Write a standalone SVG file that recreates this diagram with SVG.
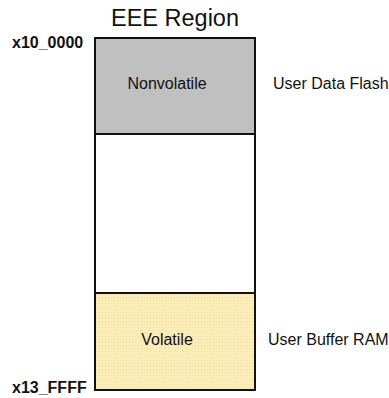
<svg xmlns="http://www.w3.org/2000/svg" width="389" height="398" viewBox="0 0 389 398">
<defs>
<pattern id="hatch" width="3" height="3" patternUnits="userSpaceOnUse">
<rect width="3" height="3" fill="#fdefbd"/>
<rect width="1" height="1" fill="#f3dc96"/>
<rect x="1.5" y="1.5" width="1" height="1" fill="#f6e2a4"/>
</pattern>
</defs>
<style>
text{font-family:"Liberation Sans",Arial,Helvetica,sans-serif;fill:#111}
.t{font-size:16px}
.a{font-size:16px;font-weight:bold}
.title{font-size:23.5px;text-anchor:middle}
.c{text-anchor:middle}
.box{stroke:#111;stroke-width:2}
</style>
<text class="title" x="175" y="26">EEE Region</text>
<g id="region">
<rect class="box" x="95" y="38" width="160" height="352" fill="#fff"/>
</g>
<g id="nonvolatile">
<rect class="box" x="95" y="38" width="160" height="96" fill="#c0c0c0"/>
<text class="t c" x="167" y="89">Nonvolatile</text>
</g>
<g id="volatile">
<rect class="box" x="95" y="293" width="160" height="97" fill="url(#hatch)"/>
<text class="t c" x="167" y="345">Volatile</text>
</g>
<g id="labels">
<text class="t" x="273" y="89">User Data Flash</text>
<text class="t" x="268" y="345">User Buffer RAM</text>
<text class="a" x="12" y="48">x10_0000</text>
<text class="a" x="12" y="393">x13_FFFF</text>
</g>
</svg>
